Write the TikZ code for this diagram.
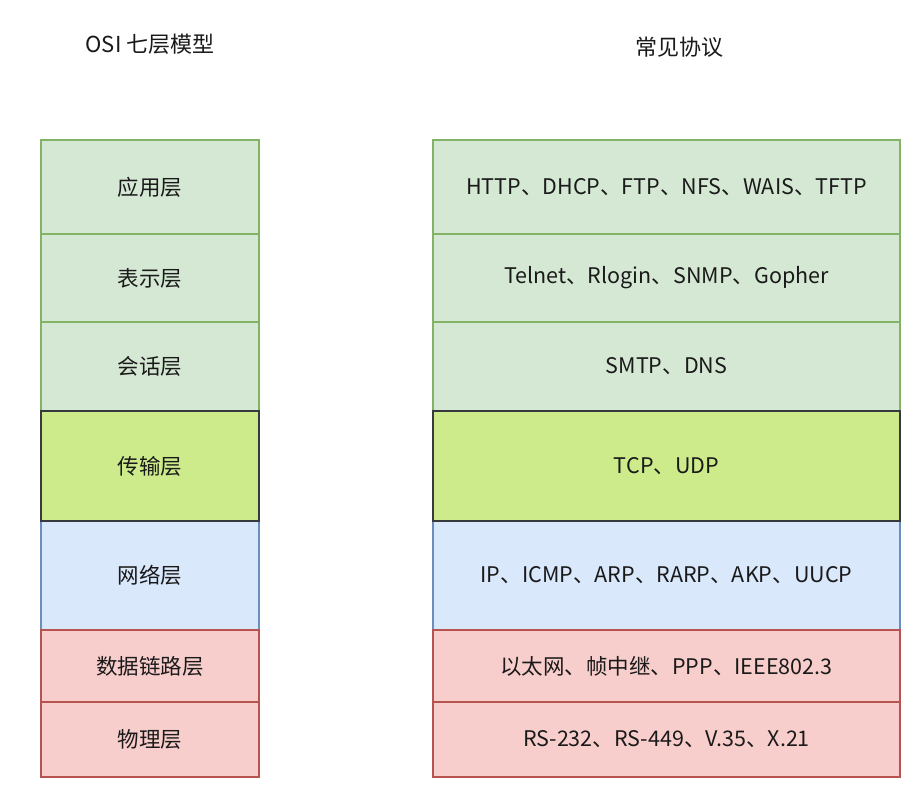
\documentclass[tikz,border=0pt]{standalone}
\usepackage{fontspec}
\setmainfont{Noto Sans CJK SC}
\usetikzlibrary{positioning}
\usepackage{xcolor}
\definecolor{lyGreen}{HTML}{D5E8D4}
\definecolor{lyGreenDk}{HTML}{82B366}
\definecolor{lyLime}{HTML}{CDEB8B}
\definecolor{lyLimeDk}{HTML}{36393D}
\definecolor{lyBlue}{HTML}{DAE8FC}
\definecolor{lyBlueDk}{HTML}{6C8EBF}
\definecolor{lyRed}{HTML}{F8CECC}
\definecolor{lyRedDk}{HTML}{B85450}
\definecolor{lyInk}{HTML}{1A1A1A}

\begin{document}
\begin{tikzpicture}[
      x=1pt, y=-1pt,
      font=\fontsize{21.5}{24}\selectfont,
      layer/.style={rectangle, line width=1.2pt, inner sep=0pt, text=lyInk},
      lyG/.style={layer, draw=lyGreenDk, fill=lyGreen},
      lyT/.style={layer, draw=lyLimeDk, fill=lyLime},
      lyB/.style={layer, draw=lyBlueDk, fill=lyBlue},
      lyR/.style={layer, draw=lyRedDk, fill=lyRed},
      head/.style={font=\fontsize{22}{24}\selectfont, text=lyInk},
    ]
    \useasboundingbox[fill=white] (0,0) rectangle (918,791);

    % ---------- titulos ----------
    \node[head] (tOSI)   at (150,44)   {OSI 七层模型};
    \node[head] (tProto) at (679,47)   {常见协议};

    % ---------- capas (izquierda) y protocolos (derecha) ----------
    \foreach \n/\y/\h/\sty/\lay/\proto in {
        1/187/94/lyG/应用层/{HTTP、DHCP、FTP、NFS、WAIS、TFTP},
        2/278/88/lyG/表示层/{Telnet、Rlogin、SNMP、Gopher},
        3/366.5/89/lyG/会话层/{SMTP、DNS},
        5/575.5/109/lyB/网络层/{IP、ICMP、ARP、RARP、AKP、UUCP},
        6/666/72/lyR/数据链路层/{以太网、帧中继、PPP、IEEE802.3},
        7/739.5/75/lyR/物理层/{RS-232、RS-449、V.35、X.21}}{
      \node[\sty, minimum width=218pt, minimum height=\h pt] (l\n) at (150,\y)   {\lay};
      \node[\sty, minimum width=467pt, minimum height=\h pt] (p\n) at (666.5,\y) {\proto};
    }

    % transporte al final: su borde oscuro queda encima
    \node[lyT, minimum width=218pt, minimum height=110pt] (l4) at (150,466)   {传输层};
    \node[lyT, minimum width=467pt, minimum height=110pt] (p4) at (666.5,466) {TCP、UDP};

  \end{tikzpicture}
\end{document}
